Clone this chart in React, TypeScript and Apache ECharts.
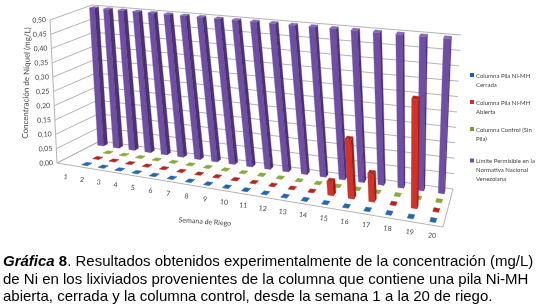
import React, { useEffect, useRef } from "react";
import * as echarts from "echarts";

const weeks = ["1","2","3","4","5","6","7","8","9","10","11","12","13","14","15","16","17","18","19","20"];
const yTicks = [0,0.05,0.1,0.15,0.2,0.25,0.3,0.35,0.4,0.45,0.5];
const yTickLabels = ["0,00","0,05","0,10","0,15","0,20","0,25","0,30","0,35","0,40","0,45","0,50"];
const cerrada = [null,0,0,0,0,0,0,0,0,0,0,0,0,0,0,0,0,0,0,0];
const abierta = [null,0,0,0,0,0,0,0,0,0,0,0,0,0,0.045,0.19,0.09,0,0.345,0];
const control = [null,0,0,0,0,0,0,0,0,0,0,0,0,0,0,0,0,0,0,0];
const limite = [0.5,0.5,0.5,0.5,0.5,0.5,0.5,0.5,0.5,0.5,0.5,0.5,0.5,0.5,0.5,0.5,0.5,0.5,0.5,0.5];
const seriesNames = [
  "Columna Pila Ni-MH\nCerrada",
  "Columna Pila Ni-MH\nAbierta",
  "Columna Control (Sin\nPila)",
  "Límite Permisible en la\nNormativa Nacional\nVenezolana",
];
const captionLines = [
  "{i|Gráfica} {b|8}. Resultados obtenidos experimentalmente de la concentración (mg/L)",
  "de Ni en los lixiviados provenientes de la columna que contiene una pila Ni-MH",
  "abierta, cerrada y la columna control, desde la semana 1 a la 20 de riego.",
];

type P = [number, number];
// Perspective of the 3D box: square-to-quad homographies for floor and ceiling.
function quad(p0: P, p1: P, p2: P, p3: P) {
  const dx1 = p1[0] - p2[0], dx2 = p3[0] - p2[0], sx = p0[0] - p1[0] + p2[0] - p3[0];
  const dy1 = p1[1] - p2[1], dy2 = p3[1] - p2[1], sy = p0[1] - p1[1] + p2[1] - p3[1];
  const den = dx1 * dy2 - dx2 * dy1;
  const g = (sx * dy2 - dx2 * sy) / den, h = (dx1 * sy - sx * dy1) / den;
  const a = p1[0] - p0[0] + g * p1[0], b = p3[0] - p0[0] + h * p3[0];
  const d = p1[1] - p0[1] + g * p1[1], e = p3[1] - p0[1] + h * p3[1];
  return (u: number, v: number): P => {
    const w = g * u + h * v + 1;
    return [(a * u + b * v + p0[0]) / w, (d * u + e * v + p0[1]) / w];
  };
}
const FL: P = [57, 163], BL: P = [100, 141], BR: P = [453, 189], FR: P = [443, 227];
const floorH = quad(FL, FR, BR, BL);
const ceilH = quad([50, 20], [451, 65], [461, 35], [92, 5]);
const proj = (u: number, v: number, h: number): P => {
  const a = floorH(u, v), b = ceilH(u, v);
  return [a[0] + (b[0] - a[0]) * h, a[1] + (b[1] - a[1]) * h];
};

const GRAY = "#b4b4b4";
const TXT = "#444444";
const SMALL = 'Lato,"Liberation Sans",sans-serif';
const BAR_HALF_PX = 2.9;

// Grid pixels to box coordinates; the category spacing is softened to the picture's perspective.
const norm = (api: any, params: any, x: number, y: number) => {
  const c = api.coord([x, y]);
  const s = params.coordSys;
  const raw = (c[0] - s.x) / s.width;
  return { u: raw + 0.16 * raw * (1 - raw), h: (s.y + s.height - c[1]) / s.height };
};
const line = (a: P, b: P, stroke = GRAY) => ({
  type: "line",
  shape: { x1: a[0], y1: a[1], x2: b[0], y2: b[1] },
  style: { stroke, lineWidth: 1, fill: "none" },
});

function barSeries(name: string, values: (number | null)[], v: number, faces: string[], z: number) {
  return {
    type: "custom",
    name,
    z,
    silent: true,
    coordinateSystem: "cartesian2d",
    itemStyle: { color: faces[0] },
    data: values.map((val, i) => [i, val]),
    renderItem: (params: any, api: any) => {
      const val = api.value(1);
      if (val === null || Number.isNaN(val)) return null;
      const { u, h } = norm(api, params, api.value(0), val);
      const pxPerU = (proj(u + 0.001, v, 0)[0] - proj(u, v, 0)[0]) / 0.001;
      const du = BAR_HALF_PX / pxPerU, dv = 0.05;
      const u0 = u - du, u1 = u + du, v0 = v - dv, v1 = v + dv;
      const poly = (pts: P[], fill: string) => ({
        type: "polygon",
        shape: { points: pts },
        style: { fill, stroke: fill, lineWidth: 0.3 },
      });
      return {
        type: "group",
        children: [
          poly([proj(u0, v0, 0), proj(u1, v0, 0), proj(u1, v0, h), proj(u0, v0, h)], faces[0]),
          poly([proj(u1, v0, 0), proj(u1, v1, 0), proj(u1, v1, h), proj(u1, v0, h)], faces[1]),
          poly([proj(u0, v0, h), proj(u1, v0, h), proj(u1, v1, h), proj(u0, v1, h)], faces[2]),
        ],
      };
    },
  };
}

const wallSeries = {
  type: "custom",
  z: 1,
  silent: true,
  coordinateSystem: "cartesian2d",
  data: yTicks.map((t) => [0, t]),
  renderItem: (params: any, api: any) => {
    const { h } = norm(api, params, 0, api.value(1));
    const children: any[] = [line(proj(0, 0, h), proj(0, 1, h)), line(proj(0, 1, h), proj(1, 1, h))];
    const p = proj(0, 0, h);
    children.push({
      type: "text",
      x: p[0] - 4,
      y: p[1] - 1,
      rotation: 0.05,
      style: {
        text: yTickLabels[params.dataIndex],
        fill: TXT,
        font: `7px ${SMALL}`,
        align: "right",
        verticalAlign: "middle",
      },
    });
    return { type: "group", children };
  },
};

const floorSeries = {
  type: "custom",
  z: 2,
  silent: true,
  coordinateSystem: "cartesian2d",
  data: [[0, 0]],
  renderItem: () => ({
    type: "group",
    children: [
      line(proj(0, 0, 0), proj(0, 0, 1)),
      line(proj(0, 0, 0), proj(0, 1, 0)),
      line(proj(0, 0, 0), proj(1, 0, 0)),
      line(proj(1, 0, 0), proj(1, 1, 0)),
    ],
  }),
};

const xLabelSeries = {
  type: "custom",
  z: 3,
  silent: true,
  coordinateSystem: "cartesian2d",
  data: weeks.map((_, i) => [i, 0]),
  renderItem: (params: any, api: any) => {
    const { u } = norm(api, params, api.value(0), 0);
    const p = proj(u, 0.125, 0);
    return {
      type: "text",
      x: p[0] - 5 + 4 * u,
      y: p[1] + 15,
      rotation: -0.1,
      style: {
        text: weeks[params.dataIndex],
        fill: TXT,
        font: `7px ${SMALL}`,
        align: "center",
        verticalAlign: "middle",
      },
    };
  },
};

export default function App() {
  const ref = useRef<HTMLDivElement>(null);
  useEffect(() => {
    const chart = echarts.init(ref.current!, undefined, { renderer: "svg" });
    chart.setOption({
      animation: false,
      backgroundColor: "#ffffff",
      grid: { left: 60, top: 10, width: 380, height: 150 },
      xAxis: { type: "category", data: weeks, show: false },
      yAxis: { type: "value", min: 0, max: 0.5, interval: 0.05, show: false },
      legend: {
        left: 470,
        top: 66,
        orient: "vertical",
        itemGap: 0,
        itemWidth: 4,
        itemHeight: 27,
        icon: "path://M0 0L0 27M0 7L4 7L4 11L0 11Z",
        selectedMode: false,
        data: seriesNames,
        padding: 0,
        formatter: (n: string) => (n === seriesNames[3] ? "\n" + n : n),
        textStyle: {
          fontFamily: SMALL,
          fontSize: 6,
          lineHeight: 9,
          color: TXT,
          padding: [0, 0, 0, -3],
        },
      },
      graphic: [
        {
          type: "text",
          x: 26,
          y: 83,
          rotation: (88.6 * Math.PI) / 180,
          style: {
            text: "Concentración de Níquel (mg/L)",
            fill: TXT,
            font: `8px ${SMALL}`,
            align: "center",
            verticalAlign: "middle",
          },
        },
        {
          type: "text",
          x: 205,
          y: 221,
          rotation: (-4 * Math.PI) / 180,
          style: {
            text: "Semana de Riego",
            fill: TXT,
            font: `7px ${SMALL}`,
            align: "center",
            verticalAlign: "middle",
          },
        },
        {
          type: "text",
          x: 3,
          y: 252,
          style: {
            text: captionLines.join("\n"),
            fill: "#000000",
            font: '15px "Liberation Sans",Arial,sans-serif',
            lineHeight: 17.5,
            rich: {
              i: {
                font: 'italic bold 15px "Liberation Sans",Arial,sans-serif',
                fill: "#000000",
                lineHeight: 17.5,
              },
              b: {
                font: 'bold 15px "Liberation Sans",Arial,sans-serif',
                fill: "#000000",
                lineHeight: 17.5,
              },
            },
          },
        },
      ],
      series: [
        wallSeries,
        floorSeries,
        xLabelSeries,
        barSeries(seriesNames[3], limite, 0.875, ["#6f4ea3", "#4b3273", "#8468b5"], 10),
        barSeries(seriesNames[2], control, 0.625, ["#7f9a32", "#5f7524", "#8ba83a"], 11),
        barSeries(seriesNames[1], abierta, 0.375, ["#d2322a", "#98201c", "#b5251f"], 12),
        barSeries(seriesNames[0], cerrada, 0.125, ["#1f5fa5", "#17477c", "#2566b0"], 13),
      ],
    });
    return () => chart.dispose();
  }, []);
  return <div ref={ref} style={{ position: "fixed", left: 0, top: 0, width: 540, height: 307, filter: "blur(0.3px)" }} />;
}
